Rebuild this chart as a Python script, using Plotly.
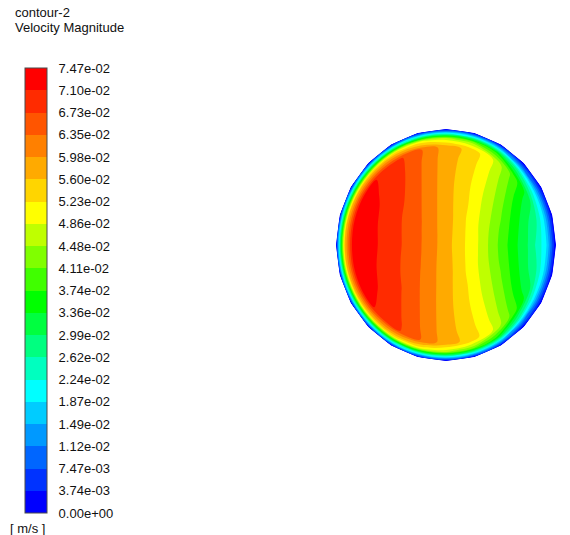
import numpy as np
import plotly.graph_objects as go

# ---- legend levels (m/s) -------------------------------------------------
level_labels = [
    "0.00e+00", "3.74e-03", "7.47e-03", "1.12e-02", "1.49e-02", "1.87e-02",
    "2.24e-02", "2.62e-02", "2.99e-02", "3.36e-02", "3.74e-02", "4.11e-02",
    "4.48e-02", "4.86e-02", "5.23e-02", "5.60e-02", "5.98e-02", "6.35e-02",
    "6.73e-02", "7.10e-02", "7.47e-02",
]
v_min = 0.0
v_max = 0.0747
n_bands = 20

# banded rainbow, lowest band first
band_colors = [
    "rgb(0,0,255)", "rgb(0,51,255)", "rgb(0,102,255)", "rgb(0,153,255)",
    "rgb(0,204,255)", "rgb(0,255,255)", "rgb(0,255,191)", "rgb(0,255,128)",
    "rgb(0,255,64)", "rgb(0,255,0)", "rgb(64,255,0)", "rgb(128,255,0)",
    "rgb(191,255,0)", "rgb(255,255,0)", "rgb(255,213,0)", "rgb(255,170,0)",
    "rgb(255,128,0)", "rgb(255,85,0)", "rgb(255,43,0)", "rgb(255,0,0)",
]

# ---- section mesh: radial stations x angular stations ---------------------
radii = [0.0, 0.30, 0.55, 0.75, 0.85, 0.92, 0.96, 1.0]
angles_deg = list(range(0, 361, 15))

# velocity magnitude at each node, one row per angle (m/s)
velocity = [
    [0.0577, 0.0483, 0.0377, 0.0296, 0.0238, 0.0182, 0.0091, 0.0],  # 0
    [0.0577, 0.0487, 0.0391, 0.0311, 0.0263, 0.0185, 0.0093, 0.0],  # 15
    [0.0577, 0.0497, 0.0425, 0.0352, 0.0322, 0.0200, 0.0100, 0.0],  # 30
    [0.0577, 0.0513, 0.0465, 0.0425, 0.0401, 0.0260, 0.0120, 0.0],  # 45
    [0.0577, 0.0534, 0.0508, 0.0494, 0.0488, 0.0370, 0.0190, 0.0],  # 60
    [0.0577, 0.0557, 0.0545, 0.0546, 0.0550, 0.0430, 0.0220, 0.0],  # 75
    [0.0577, 0.0577, 0.0577, 0.0578, 0.0578, 0.0460, 0.0230, 0.0],  # 90
    [0.0577, 0.0597, 0.0614, 0.0628, 0.0635, 0.0500, 0.0250, 0.0],  # 105
    [0.0577, 0.0616, 0.0649, 0.0673, 0.0680, 0.0530, 0.0270, 0.0],  # 120
    [0.0577, 0.0633, 0.0675, 0.0694, 0.0704, 0.0540, 0.0270, 0.0],  # 135
    [0.0577, 0.0645, 0.0687, 0.0718, 0.0730, 0.0550, 0.0280, 0.0],  # 150
    [0.0577, 0.0653, 0.0694, 0.0728, 0.0729, 0.0560, 0.0290, 0.0],  # 165
    [0.0577, 0.0655, 0.0697, 0.0733, 0.0721, 0.0560, 0.0290, 0.0],  # 180
    [0.0577, 0.0652, 0.0692, 0.0726, 0.0727, 0.0560, 0.0290, 0.0],  # 195
    [0.0577, 0.0643, 0.0684, 0.0715, 0.0726, 0.0550, 0.0280, 0.0],  # 210
    [0.0577, 0.0630, 0.0670, 0.0690, 0.0700, 0.0540, 0.0270, 0.0],  # 225
    [0.0577, 0.0613, 0.0644, 0.0668, 0.0676, 0.0530, 0.0270, 0.0],  # 240
    [0.0577, 0.0595, 0.0611, 0.0625, 0.0632, 0.0500, 0.0250, 0.0],  # 255
    [0.0577, 0.0576, 0.0575, 0.0576, 0.0576, 0.0460, 0.0230, 0.0],  # 270
    [0.0577, 0.0556, 0.0544, 0.0544, 0.0548, 0.0430, 0.0220, 0.0],  # 285
    [0.0577, 0.0533, 0.0506, 0.0492, 0.0486, 0.0370, 0.0190, 0.0],  # 300
    [0.0577, 0.0512, 0.0463, 0.0422, 0.0398, 0.0260, 0.0120, 0.0],  # 315
    [0.0577, 0.0496, 0.0423, 0.0350, 0.0320, 0.0200, 0.0100, 0.0],  # 330
    [0.0577, 0.0486, 0.0390, 0.0310, 0.0262, 0.0185, 0.0093, 0.0],  # 345
    [0.0577, 0.0483, 0.0377, 0.0296, 0.0238, 0.0182, 0.0091, 0.0],  # 360
]

# ---- geometry of the O-grid ----------------------------------------------
theta = np.radians(angles_deg)
r = np.asarray(radii)
x_mesh = np.outer(np.cos(theta), r)
y_mesh = np.outer(np.sin(theta), r)

step = (v_max - v_min) / n_bands
levels = [v_min + i * step for i in range(n_bands + 1)]

colorscale = []
for i, c in enumerate(band_colors):
    colorscale.append([i / n_bands, c])
    colorscale.append([(i + 1) / n_bands, c])

W, H = 570, 535
FONT = "Liberation Sans, Arial, sans-serif"

hidden_axis = dict(
    showgrid=False, showline=False, showticklabels="none",
    startline=False, endline=False, minorgridcount=0, smoothing=0,
)

fig = go.Figure()
fig.add_trace(go.Carpet(
    carpet="section",
    a=radii, b=angles_deg,
    x=x_mesh.tolist(), y=y_mesh.tolist(),
    aaxis=hidden_axis, baxis=hidden_axis,
))
fig.add_trace(go.Contourcarpet(
    carpet="section",
    a=radii, b=angles_deg, z=velocity,
    autocontour=False,
    contours=dict(start=v_min, end=v_max, size=step,
                  coloring="fill", showlines=False),
    line=dict(width=0),
    colorscale=colorscale, zmin=v_min, zmax=v_max,
    colorbar=dict(
        x=25 / W, xanchor="left", xpad=0,
        y=1 - 290.5 / H, yanchor="middle", ypad=0,
        thickness=22, thicknessmode="pixels",
        len=445, lenmode="pixels",
        outlinewidth=1, outlinecolor="#4a4a4a",
        tickmode="array", tickvals=levels, ticktext=level_labels,
        ticks="outside", ticklen=9, tickcolor="rgba(0,0,0,0)",
        tickfont=dict(family=FONT, size=13, color="#111111"),
    ),
))

# pixel placement of the section: centre (446, 245), 110 x 116 px radii
cx, cy, rx, ry = 446, 245, 110, 116
fig.update_xaxes(range=[(0 - cx) / rx, (W - cx) / rx], visible=False, domain=[0, 1])
fig.update_yaxes(range=[-(H - cy) / ry, cy / ry], visible=False, domain=[0, 1])

texts = [
    ("contour-2", 13, 13, "left"),
    ("Velocity Magnitude", 13, 28, "left"),
    ("[ m/s ]", 27, 528, "center"),
]
for txt, px, py, anchor in texts:
    fig.add_annotation(
        text=txt, xref="paper", yref="paper", x=px / W, y=1 - py / H,
        xanchor=anchor, yanchor="middle", showarrow=False,
        font=dict(family=FONT, size=13, color="#111111"),
    )

fig.update_layout(
    width=W, height=H,
    margin=dict(l=0, r=0, t=0, b=0, autoexpand=False),
    paper_bgcolor="white", plot_bgcolor="white",
    showlegend=False,
)

fig.write_html("out.html", config={"displayModeBar": False})
